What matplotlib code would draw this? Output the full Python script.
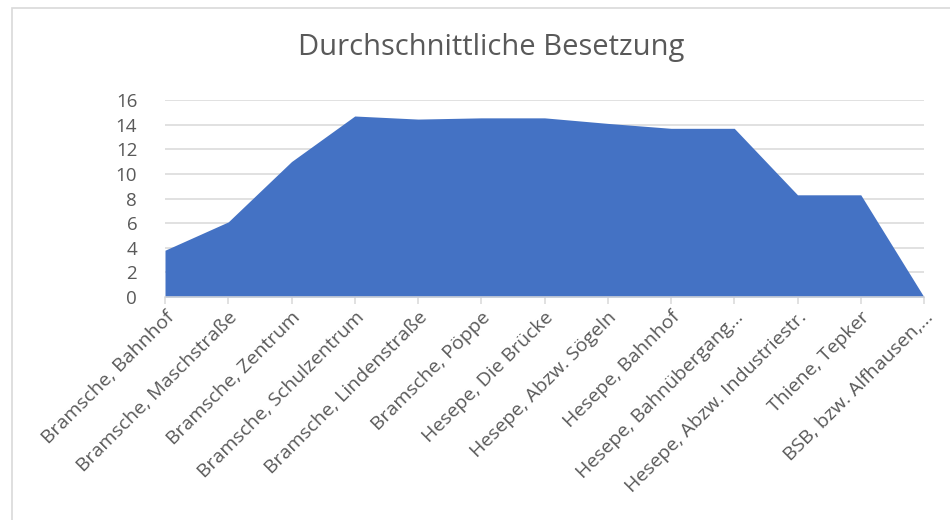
import matplotlib
matplotlib.use("Agg")
import matplotlib.pyplot as plt
from matplotlib.patches import Rectangle

categories = [
    "Bramsche, Bahnhof",
    "Bramsche, Maschstraße",
    "Bramsche, Zentrum",
    "Bramsche, Schulzentrum",
    "Bramsche, Lindenstraße",
    "Bramsche, Pöppe",
    "Hesepe, Die Brücke",
    "Hesepe, Abzw. Sögeln",
    "Hesepe, Bahnhof",
    "Hesepe, Bahnübergang…",
    "Hesepe, Abzw. Industriestr.",
    "Thiene, Tepker",
    "BSB, bzw. Alfhausen,…",
]
values = [3.8, 6.1, 11.0, 14.7, 14.45, 14.55, 14.55, 14.1, 13.7, 13.7, 8.3, 8.3, 0.0]
yticks = [0, 2, 4, 6, 8, 10, 12, 14, 16]
title = "Durchschnittliche Besetzung"

plt.rcParams['font.family'] = ['Open Sans', 'DejaVu Sans']
W, H = 950, 520
fig = plt.figure(figsize=(W/100, H/100), dpi=100)
fig.patch.set_facecolor("white")

# chart frame
fig.patches.append(Rectangle((12/W, -0.1), 1.2, (H - 8)/H + 0.1, transform=fig.transFigure,
                             fill=False, edgecolor="#d9d9d9", linewidth=1.2))

ax = fig.add_axes([165/W, 1 - 297/H, (924 - 165)/W, (297 - 100)/H])
x = list(range(len(categories)))
ax.fill_between(x, values, 0, color="#4472C4", linewidth=0, zorder=2)
ax.set_xlim(0, len(categories) - 1)
ax.set_ylim(0, 16)
ax.set_yticks(yticks)
ax.set_yticklabels([str(v) for v in yticks])
ax.grid(axis="y", color="#d9d9d9", linewidth=1.1, zorder=0)
ax.set_axisbelow(True)
for s in ["top", "right", "left"]:
    ax.spines[s].set_visible(False)
ax.spines["bottom"].set_color("#d9d9d9")
ax.spines["bottom"].set_linewidth(1.1)
ax.tick_params(axis="y", length=0, labelsize=13.5, labelcolor="#595959", pad=20)
ax.tick_params(axis="x", length=5, color="#d9d9d9", width=1.1, labelsize=14,
               labelcolor="#595959", pad=3)
ax.set_xticks(x)
ax.set_xticklabels(categories, rotation=45, ha="right", va="top", rotation_mode="anchor")

fig.text(491/W, 1 - 48/H, title, ha="center", va="center", fontsize=21, color="#595959")

fig.savefig("out.png", dpi=100)
